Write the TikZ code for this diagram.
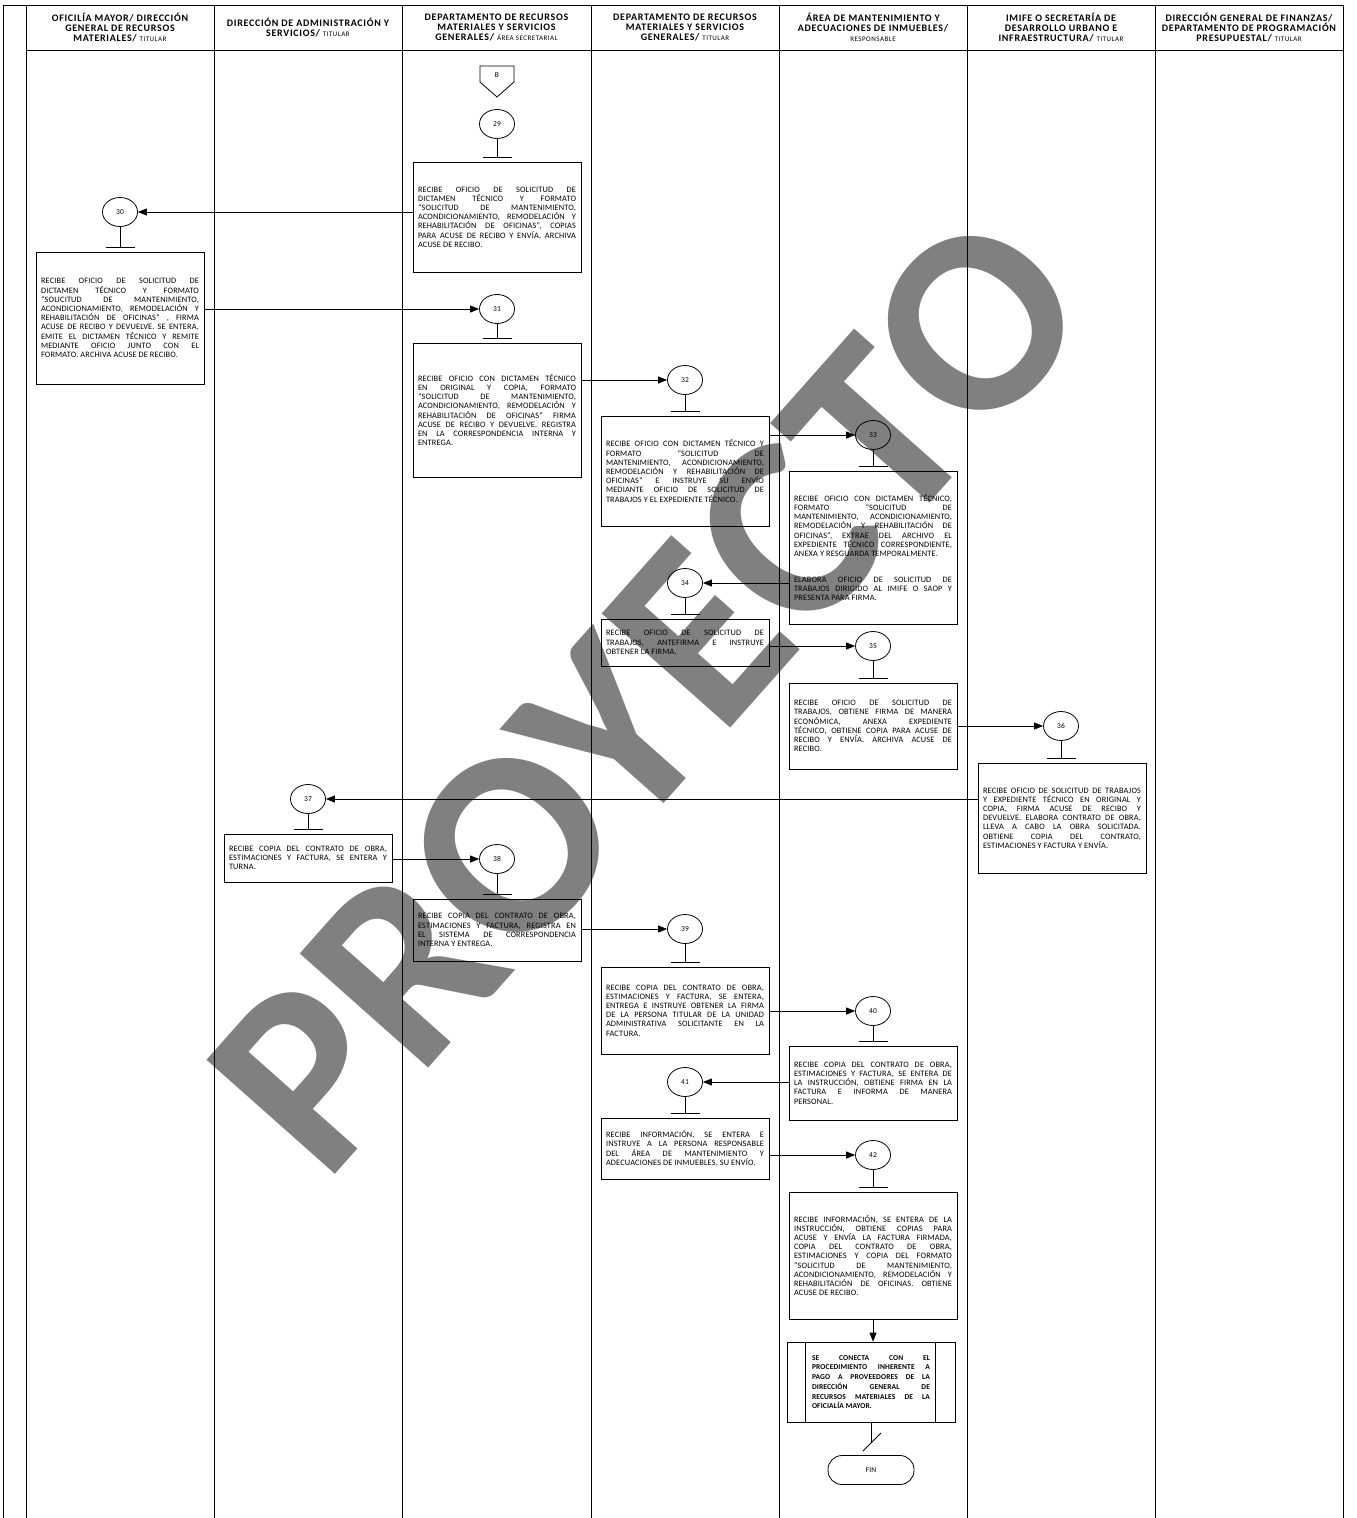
\documentclass[tikz,border=0pt]{standalone}
\usepackage{fontspec}
\setmainfont{Carlito}[LetterSpace=2]
\newfontfamily\hdrfont{Carlito}[LetterSpace=7]
\newfontfamily\markfont{Carlito}
\usepackage{tikz}
\usetikzlibrary{arrows.meta,positioning,calc,shapes.geometric}

\newcommand{\hdrsub}[1]{{\mdseries\fontsize{7}{8}\selectfont #1}}
\hbadness=10000
\hyphenpenalty=10000
\exhyphenpenalty=10000

\begin{document}
\begin{tikzpicture}[x=1pt,y=-1pt,>={Triangle[length=9pt,width=7pt]},
  proc/.style={draw,line width=0.8pt,text width=158pt,inner sep=5pt,align=justify,font=\fontsize{8.3}{9.2}\selectfont},
  num/.style={ellipse,draw,line width=0.8pt,minimum width=35pt,minimum height=29pt,inner sep=0pt,font=\fontsize{7.5}{8}\selectfont},
  hdr/.style={align=center,font=\hdrfont\fontsize{10}{10.2}\selectfont\bfseries},
  flow/.style={->,line width=0.8pt}]
 \useasboundingbox (0,0) rectangle (1357,1518);
 % watermark behind everything
 \node[rotate=48.4,text=black!50,inner sep=0pt,font=\markfont\fontsize{265}{265}\selectfont\bfseries] (mark) at (648,692) {PROYECTO};
 % frame and lanes
 \draw[line width=1pt] (3,1518) -- (3,5) -- (1343,5) -- (1343,1518);
 \draw[line width=1pt] (26,5) rectangle (1343,50);
 \foreach \x in {26,214,402,591,779,967,1155}
   \draw[line width=1pt] (\x,5) -- (\x,1518);
 \node[hdr] (h1) at (120,27.5) {OFICILÍA MAYOR/ DIRECCIÓN\\GENERAL DE RECURSOS\\MATERIALES/ \hdrsub{TITULAR}};
 \node[hdr] (h2) at (308,27.5) {DIRECCIÓN DE ADMINISTRACIÓN Y\\SERVICIOS/ \hdrsub{TITULAR}};
 \node[hdr] (h3) at (496.5,27.5) {DEPARTAMENTO DE RECURSOS\\MATERIALES Y SERVICIOS\\GENERALES/ \hdrsub{ÁREA SECRETARIAL}};
 \node[hdr] (h4) at (685,27.5) {DEPARTAMENTO DE RECURSOS\\MATERIALES Y SERVICIOS\\GENERALES/ \hdrsub{TITULAR}};
 \node[hdr] (h5) at (873,27.5) {ÁREA DE MANTENIMIENTO Y\\ADECUACIONES DE INMUEBLES/\\\hdrsub{RESPONSABLE}};
 \node[hdr] (h6) at (1061,27.5) {IMIFE O SECRETARÍA DE\\DESARROLLO URBANO E\\INFRAESTRUCTURA/ \hdrsub{TITULAR}};
 \node[hdr] (h7) at (1249,27.5) {DIRECCIÓN GENERAL DE FINANZAS/\\DEPARTAMENTO DE PROGRAMACIÓN\\PRESUPUESTAL/ \hdrsub{TITULAR}};
 % off-page connector
 \draw[line width=0.8pt] (480,66) -- (514,66) -- (514,82) -- (497,97) -- (480,82) -- cycle;
 \node[font=\fontsize{7.5}{8}\selectfont] (offB) at (497,75) {B};
 % step numbers
 \node[num] (c29) at (497,124) {29};
 \node[num] (c30) at (120,212) {30};
 \node[num] (c31) at (497,309) {31};
 \node[num] (c32) at (685,380) {32};
 \node[num] (c33) at (873,435) {33};
 \node[num] (c34) at (685,583) {34};
 \node[num] (c35) at (873,646) {35};
 \node[num] (c36) at (1061,726) {36};
 \node[num] (c37) at (308,799) {37};
 \node[num] (c38) at (497,859) {38};
 \node[num] (c39) at (685,929) {39};
 \node[num] (c40) at (873,1011) {40};
 \node[num] (c41) at (685,1082) {41};
 \node[num] (c42) at (873,1155) {42};
 % activities
 \node[proc,minimum height=110pt] (b29) at (497,217) {RECIBE OFICIO DE SOLICITUD DE\linebreak DICTAMEN TÉCNICO Y FORMATO\linebreak “SOLICITUD DE MANTENIMIENTO,\linebreak ACONDICIONAMIENTO, REMODELACIÓN Y\linebreak REHABILITACIÓN DE OFICINAS”, COPIAS\linebreak PARA ACUSE DE RECIBO Y ENVÍA. ARCHIVA\linebreak ACUSE DE RECIBO.};
 \node[proc,minimum height=132pt] (b30) at (120,318) {RECIBE OFICIO DE SOLICITUD DE\linebreak DICTAMEN TÉCNICO Y FORMATO\linebreak “SOLICITUD DE MANTENIMIENTO,\linebreak ACONDICIONAMIENTO, REMODELACIÓN Y\linebreak REHABILITACIÓN DE OFICINAS” , FIRMA\linebreak ACUSE DE RECIBO Y DEVUELVE. SE ENTERA,\linebreak EMITE EL DICTAMEN TÉCNICO Y REMITE\linebreak MEDIANTE OFICIO JUNTO CON EL\linebreak FORMATO. ARCHIVA ACUSE DE RECIBO.};
 \node[proc,minimum height=134pt] (b31) at (497,410) {RECIBE OFICIO CON DICTAMEN TÉCNICO\linebreak EN ORIGINAL Y COPIA, FORMATO\linebreak “SOLICITUD DE MANTENIMIENTO,\linebreak ACONDICIONAMIENTO, REMODELACIÓN Y\linebreak REHABILITACIÓN DE OFICINAS” FIRMA\linebreak ACUSE DE RECIBO Y DEVUELVE. REGISTRA\linebreak EN LA CORRESPONDENCIA INTERNA Y\linebreak ENTREGA.};
 \node[proc,minimum height=110pt] (b32) at (685,471) {RECIBE OFICIO CON DICTAMEN TÉCNICO Y\linebreak FORMATO “SOLICITUD DE\linebreak MANTENIMIENTO, ACONDICIONAMIENTO,\linebreak REMODELACIÓN Y REHABILITACIÓN DE\linebreak OFICINAS” E INSTRUYE SU ENVÍO\linebreak MEDIANTE OFICIO DE SOLICITUD DE\linebreak TRABAJOS Y EL EXPEDIENTE TÉCNICO.};
 \node[proc,minimum height=153pt] (b33) at (873,547.5) {RECIBE OFICIO CON DICTAMEN TÉCNICO,\linebreak FORMATO “SOLICITUD DE\linebreak MANTENIMIENTO, ACONDICIONAMIENTO,\linebreak REMODELACIÓN Y REHABILITACIÓN DE\linebreak OFICINAS”, EXTRAE DEL ARCHIVO EL\linebreak EXPEDIENTE TÉCNICO CORRESPONDIENTE,\linebreak ANEXA Y RESGUARDA TEMPORALMENTE.\par\vspace{16.5pt}ELABORA OFICIO DE SOLICITUD DE\linebreak TRABAJOS DIRIGIDO AL IMIFE O SAOP Y\linebreak PRESENTA PARA FIRMA.};
 \node[proc,minimum height=47pt] (b34) at (685,642.5) {RECIBE OFICIO DE SOLICITUD DE\linebreak TRABAJOS, ANTEFIRMA E INSTRUYE\linebreak OBTENER LA FIRMA.};
 \node[proc,minimum height=86pt] (b35) at (873,726) {RECIBE OFICIO DE SOLICITUD DE\linebreak TRABAJOS, OBTIENE FIRMA DE MANERA\linebreak ECONÓMICA, ANEXA EXPEDIENTE\linebreak TÉCNICO, OBTIENE COPIA PARA ACUSE DE\linebreak RECIBO Y ENVÍA. ARCHIVA ACUSE DE\linebreak RECIBO.};
 \node[proc,minimum height=110pt] (b36) at (1062,818) {RECIBE OFICIO DE SOLICITUD DE TRABAJOS\linebreak Y EXPEDIENTE TÉCNICO EN ORIGINAL Y\linebreak COPIA, FIRMA ACUSE DE RECIBO Y\linebreak DEVUELVE. ELABORA CONTRATO DE OBRA,\linebreak LLEVA A CABO LA OBRA SOLICITADA.\linebreak OBTIENE COPIA DEL CONTRATO,\linebreak ESTIMACIONES Y FACTURA Y ENVÍA.};
 \node[proc,minimum height=48pt] (b37) at (308,858) {RECIBE COPIA DEL CONTRATO DE OBRA,\linebreak ESTIMACIONES Y FACTURA, SE ENTERA Y\linebreak TURNA.};
 \node[proc,minimum height=62pt] (b38) at (497,930) {RECIBE COPIA DEL CONTRATO DE OBRA,\linebreak ESTIMACIONES Y FACTURA, REGISTRA EN\linebreak EL SISTEMA DE CORRESPONDENCIA\linebreak INTERNA Y ENTREGA.};
 \node[proc,minimum height=87pt] (b39) at (685,1010.5) {RECIBE COPIA DEL CONTRATO DE OBRA,\linebreak ESTIMACIONES Y FACTURA, SE ENTERA,\linebreak ENTREGA E INSTRUYE OBTENER LA FIRMA\linebreak DE LA PERSONA TITULAR DE LA UNIDAD\linebreak ADMINISTRATIVA SOLICITANTE EN LA\linebreak FACTURA.};
 \node[proc,minimum height=74pt] (b40) at (873,1083) {RECIBE COPIA DEL CONTRATO DE OBRA,\linebreak ESTIMACIONES Y FACTURA, SE ENTERA DE\linebreak LA INSTRUCCIÓN, OBTIENE FIRMA EN LA\linebreak FACTURA E INFORMA DE MANERA\linebreak PERSONAL.};
 \node[proc,minimum height=61pt] (b41) at (685,1148.5) {RECIBE INFORMACIÓN, SE ENTERA E\linebreak INSTRUYE A LA PERSONA RESPONSABLE\linebreak DEL ÁREA DE MANTENIMIENTO Y\linebreak ADECUACIONES DE INMUEBLES, SU ENVÍO.};
 \node[proc,minimum height=127pt] (b42) at (873,1255.5) {RECIBE INFORMACIÓN, SE ENTERA DE LA\linebreak INSTRUCCIÓN, OBTIENE COPIAS PARA\linebreak ACUSE Y ENVÍA LA FACTURA FIRMADA,\linebreak COPIA DEL CONTRATO DE OBRA,\linebreak ESTIMACIONES Y COPIA DEL FORMATO\linebreak “SOLICITUD DE MANTENIMIENTO,\linebreak ACONDICIONAMIENTO, REMODELACIÓN Y\linebreak REHABILITACIÓN DE OFICINAS. OBTIENE\linebreak ACUSE DE RECIBO.};
 % link to other procedure and end
 \node[proc,text width=118pt,minimum width=168pt,minimum height=80pt,font=\fontsize{7.5}{9.7}\selectfont\bfseries] (link) at (871,1382) {SE CONECTA CON EL\linebreak PROCEDIMIENTO INHERENTE A\linebreak PAGO A PROVEEDORES DE LA\linebreak DIRECCIÓN GENERAL DE\linebreak RECURSOS MATERIALES DE LA\linebreak OFICIALÍA MAYOR.};
 \draw[line width=0.8pt] ([xshift=19pt]link.north west) -- ([xshift=19pt]link.south west);
 \draw[line width=0.8pt] ([xshift=-20pt]link.north east) -- ([xshift=-20pt]link.south east);
 \node[draw,line width=0.8pt,rounded corners=14pt,minimum width=86pt,minimum height=29pt,font=\fontsize{7.5}{9}\selectfont] (fin) at (871,1470) {FIN};
 \coordinate (cut) at (871,1443);
 % stems under the step numbers
 \foreach \n in {29,...,42} {
   \coordinate (t\n) at ($(b\n.north)+(0,-4)$);
   \draw[line width=0.8pt] (c\n.south) -- (c\n.south |- t\n);
   \draw[line width=0.8pt] ($(c\n.south |- t\n)+(-14.5,0)$) -- ++(29,0);
 }
 % flow
 \foreach \a/\b/\p/\q in {29/30/west/east,30/31/east/west,31/32/east/west,32/33/east/west,33/34/west/east,34/35/east/west,35/36/east/west,36/37/west/east,37/38/east/west,38/39/east/west,39/40/east/west,40/41/west/east,41/42/east/west}
   \draw[flow] (b\a.\p |- c\b) -- (c\b.\q);
 \draw[flow] (b42.south) -- (b42.south |- link.north);
 \draw[line width=0.8pt] (link.south) -- (cut);
 \draw[line width=0.8pt] ($(cut)+(-8,8)$) -- ($(cut)+(10,-10)$);
\end{tikzpicture}
\end{document}
